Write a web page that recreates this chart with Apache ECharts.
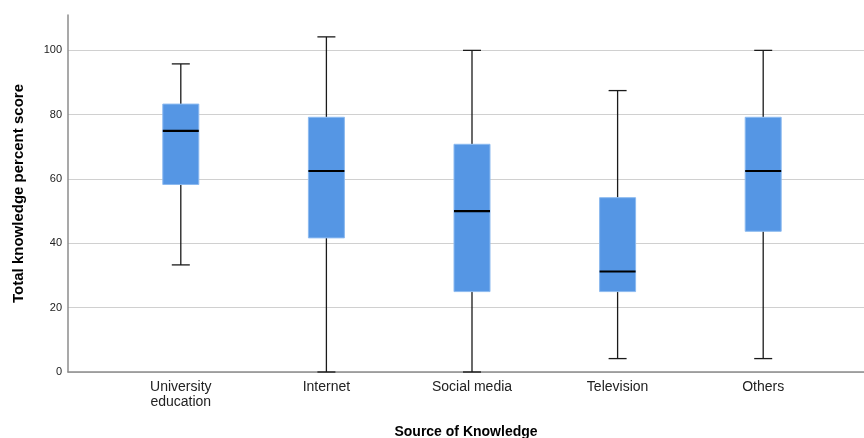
<!DOCTYPE html>
<html>
<head>
    <meta charset="utf-8">
    <script src="https://cdn.jsdelivr.net/npm/echarts@6/dist/echarts.min.js"></script>
</head>
<style>
    *{
        margin:0;
        padding:0;
    }
    body{
        background:#fff;
    }
</style>
<body>
<div id="main" style="width:864px;height:438px;"></div>
<script type="text/javascript">
    // categories and box statistics
    var categories = ['University\neducation', 'Internet', 'Social media', 'Television', 'Others'];
    var whiskerLow = [33.3, 0, 0, 4.17, 4.17];
    var q1 = [58.3, 41.7, 25, 25, 43.75];
    var median = [75, 62.5, 50, 31.25, 62.5];
    var q3 = [83.3, 79.2, 70.8, 54.2, 79.2];
    var whiskerHigh = [95.8, 104.2, 100, 87.5, 100];
    var yTicks = [0, 20, 40, 60, 80, 100];

    var rows = categories.map(function (c, i) {
        return [i, whiskerLow[i], q1[i], median[i], q3[i], whiskerHigh[i]];
    });

    var dom = document.getElementById('main');
    var myChart = echarts.init(dom);

    var boxW = 36, capW = 18;
    function renderBox(params, api) {
        var x = api.value(0);
        function pt(k) { return api.coord([x, api.value(k)]); }
        var lo = pt(1), a = pt(2), m = pt(3), b = pt(4), hi = pt(5);
        var cx = lo[0];
        var lineStyle = {stroke: '#1a1a1a', lineWidth: 1.3};
        return {
            type: 'group',
            children: [
                {type: 'line', shape: {x1: cx, y1: lo[1], x2: cx, y2: a[1]}, style: lineStyle},
                {type: 'line', shape: {x1: cx, y1: b[1], x2: cx, y2: hi[1]}, style: lineStyle},
                {type: 'line', shape: {x1: cx - capW / 2, y1: lo[1], x2: cx + capW / 2, y2: lo[1]}, style: lineStyle},
                {type: 'line', shape: {x1: cx - capW / 2, y1: hi[1], x2: cx + capW / 2, y2: hi[1]}, style: lineStyle},
                {type: 'rect', shape: {x: cx - boxW / 2, y: b[1], width: boxW, height: a[1] - b[1]},
                    style: {fill: '#5596e4', stroke: '#8cbaf0', lineWidth: 1}},
                {type: 'line', shape: {x1: cx - boxW / 2, y1: m[1], x2: cx + boxW / 2, y2: m[1]},
                    style: {stroke: '#000', lineWidth: 2.2}}
            ]
        };
    }

    var option = {
        animation: false,
        textStyle: {fontFamily: 'Liberation Sans, Arial, sans-serif'},
        grid: [
            {left: 68, right: 0, top: 15, bottom: 66, outerBoundsMode: 'none', containLabel: false},
            {left: 108, right: 28, top: 15, bottom: 66, outerBoundsMode: 'none', containLabel: false}
        ],
        xAxis: [{
            gridIndex: 0,
            type: 'category',
            data: [''],
            axisLine: {lineStyle: {color: '#8c8c8c', width: 1.5}},
            axisTick: {show: false},
            axisLabel: {show: false},
            name: 'Source of Knowledge',
            nameLocation: 'middle',
            nameGap: 53,
            nameTextStyle: {color: '#000', fontSize: 14, fontWeight: 'bold'}
        }, {
            gridIndex: 1,
            type: 'category',
            data: categories,
            axisLine: {show: false},
            axisTick: {show: false},
            axisLabel: {color: '#222', fontSize: 14, margin: 8, lineHeight: 15}
        }],
        yAxis: [{
            gridIndex: 0,
            type: 'value',
            min: 0,
            max: 111,
            interval: 20,
            axisLine: {show: true, lineStyle: {color: '#8c8c8c', width: 1.5}},
            axisTick: {show: false},
            axisLabel: {color: '#222', fontSize: 11, margin: 6, showMaxLabel: false,
                formatter: function (v) { return yTicks.indexOf(v) >= 0 ? String(v) : ''; }},
            splitLine: {show: true, showMaxLine: false, lineStyle: {color: '#d0d0d0', width: 1}},
            name: 'Total knowledge percent score',
            nameLocation: 'middle',
            nameGap: 42,
            nameTextStyle: {color: '#000', fontSize: 15, fontWeight: 'bold'}
        }, {
            gridIndex: 1,
            type: 'value',
            min: 0,
            max: 111,
            show: false
        }],
        series: [{
            type: 'custom',
            xAxisIndex: 1,
            yAxisIndex: 1,
            renderItem: renderBox,
            encode: {x: 0, y: [1, 2, 3, 4, 5]},
            data: rows
        }]
    };

    myChart.setOption(option);
</script>
</body>
</html>
